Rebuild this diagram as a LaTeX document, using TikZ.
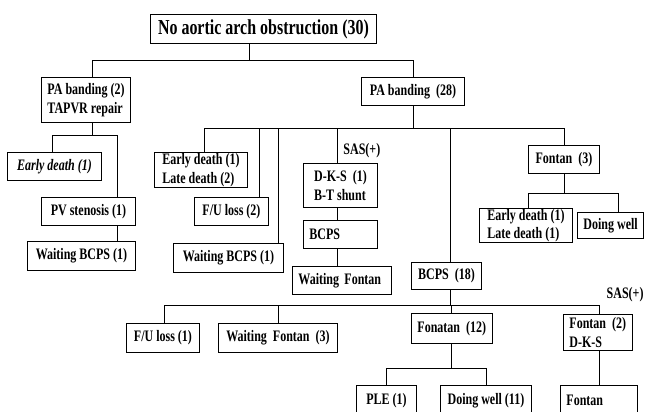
\documentclass[tikz,border=0pt]{standalone}
\usepackage{fontspec}
\setmainfont[FakeStretch=0.75]{Liberation Serif}
\begin{document}
\begin{tikzpicture}[x=1pt, y=-1pt, line width=0.9pt,
        bx/.style={draw, anchor=north west, inner xsep=6pt, inner ysep=0pt,
            align=left, font=\bfseries\fontsize{16}{18.5}\selectfont},
        lbl/.style={inner sep=0pt, font=\bfseries\fontsize{16}{18}\selectfont}
    ]
    \clip (0,0) rectangle (646,412);

    \node[bx, font=\bfseries\fontsize{21.3}{24}\selectfont, minimum width=226pt, minimum height=29pt] (root) at (150,14) {No aortic arch obstruction (30)};
    \node[bx, minimum width=89pt, minimum height=45pt] (pab2) at (41,77) {PA banding (2)\\TAPVR repair};
    \node[bx, minimum width=103pt, minimum height=28pt] (pab28) at (361,77) {PA banding\ \ (28)};

    \node[bx, font=\bfseries\itshape\fontsize{16}{18.5}\selectfont, minimum width=94pt, minimum height=28pt] (ed1) at (7,152) {Early death (1)};
    \node[bx, minimum width=94pt, minimum height=28pt] (pvs) at (41,197) {PV stenosis (1)};
    \node[bx, minimum width=108pt, minimum height=29pt] (wbcps1) at (27,241) {Waiting BCPS (1)};

    \node[bx, minimum width=93pt, minimum height=35pt] (edld) at (154,152) {Early death (1)\\Late death (2)};
    \node[bx, minimum width=74pt, minimum height=28pt] (fu2) at (194,197) {F/U loss (2)};
    \node[bx, minimum width=110pt, minimum height=29pt] (wbcps2) at (173,243) {Waiting BCPS (1)};
    \node[bx, minimum width=74pt, minimum height=44pt] (dks) at (303,163) {D-K-S\ \ (1)\\B-T shunt};
    \node[bx, text width=62pt, minimum height=28pt] (bcps) at (303,220) {BCPS};
    \node[bx, text width=87pt, minimum height=28pt] (wfon) at (292,266) {Waiting~Fontan};
    \node[bx, minimum width=71pt, minimum height=28pt] (fon3) at (528,145) {Fontan\ \ (3)};
    \node[bx, minimum width=93pt, minimum height=34pt] (edld2) at (479,208) {Early death (1)\\Late death (1)};
    \node[bx, minimum width=65pt, minimum height=26pt] (dw) at (577,212) {Doing well};
    \node[bx, minimum width=70pt, minimum height=27pt] (bcps18) at (411,262) {BCPS\ \ (18)};

    \node[bx, minimum width=73pt, minimum height=29pt] (fu1) at (126,323) {F/U loss (1)};
    \node[bx, minimum width=119pt, minimum height=29pt] (wf3) at (218,323) {Waiting\ \ Fontan\ \ (3)};
    \node[bx, minimum width=78pt, minimum height=30pt] (fon12) at (411,313) {Fonatan\ \ (12)};
    \node[bx, minimum width=65pt, minimum height=36pt] (fon2) at (563,314) {Fontan\ \ (2)\\D-K-S};
    \node[bx, minimum width=60pt, minimum height=30pt] (ple) at (356,385) {PLE (1)};
    \node[bx, minimum width=91pt, minimum height=30pt] (dw11) at (440,385) {Doing well (11)};
    \node[bx, text width=65pt, minimum height=30pt] (fontan) at (560,385) {Fontan};

    \node[lbl, anchor=west] (sas1) at (343,151) {SAS(+)};
    \node[lbl, anchor=east] (sas2) at (644,295) {SAS(+)};

    \draw ([xshift=-14pt]root.south) -- ++(0,17) coordinate (j0);
    \draw ([xshift=6.5pt]pab2.north) |- (j0) -| (pab28.north);

    \draw ([xshift=6.5pt]pab2.south) -- ++(0,13) coordinate (j1);
    \draw ([xshift=-2pt]ed1.north) |- (j1) -| ([xshift=29pt]pvs.north);
    \coordinate (s1) at ([xshift=29pt]pvs.south);
    \draw (s1) -- (s1 |- wbcps1.north);

    \draw (pab28.south) -- ++(0,23) coordinate (j2);
    \draw ([xshift=3.5pt]edld.north) |- (j2) -| (fon3.north);
    \coordinate (s2) at ([xshift=28pt]fu2.north);
    \coordinate (s3) at ([xshift=50pt]wbcps2.north);
    \coordinate (s4) at ([xshift=-3pt]dks.north);
    \coordinate (s5) at ([xshift=4pt]bcps18.north);
    \foreach \s in {s2,s3,s4,s5}
    {
        \draw (\s) -- (\s |- j2);
    }

    \coordinate (s6) at ([xshift=-3pt]dks.south);
    \draw (s6) -- (s6 |- bcps.north);
    \coordinate (s7) at ([xshift=-3pt]bcps.south);
    \draw (s7) -- (s7 |- wfon.north);

    \draw (fon3.south) -- ++(0,20) coordinate (j3);
    \draw ([xshift=2.5pt]edld2.north) |- (j3) -| ([xshift=7.5pt]dw.north);

    \draw ([xshift=4pt]bcps18.south) -- ++(0,16) coordinate (j4);
    \draw ([xshift=1.5pt]fu1.north) |- (j4) -| ([xshift=1.5pt]fon2.north);
    \draw (wf3.north) -- (wf3.north |- j4);
    \draw (fon12.north) -- (fon12.north |- j4);

    \draw (fon12.south) -- ++(0,25) coordinate (j5);
    \draw (ple.north) |- (j5) -| (dw11.north);
    \coordinate (s9) at ([xshift=1.5pt]fon2.south);
    \draw (s9) -- (s9 |- fontan.north);
\end{tikzpicture}
\end{document}
